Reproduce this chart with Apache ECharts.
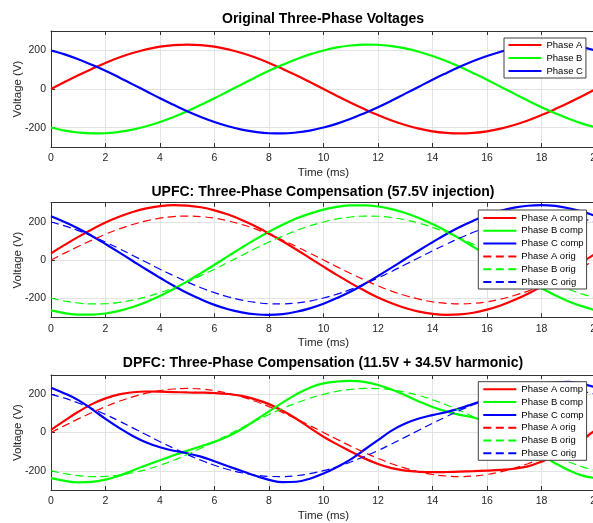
<!DOCTYPE html>
<html>
<head>
<meta charset="utf-8">
<script src="https://cdn.jsdelivr.net/npm/echarts@6/dist/echarts.min.js"></script>
<style>
html,body{margin:0;padding:0;background:#fff;}
#chart{width:593px;height:523px;}
</style>
</head>
<body>
<div id="chart"></div>
<script>
// Time axis (ms)
const time = [0,0.5,1,1.5,2,2.5,3,3.5,4,4.5,5,5.5,6,6.5,7,7.5,8,8.5,9,9.5,10,10.5,11,11.5,12,12.5,13,13.5,14,14.5,15,15.5,16,16.5,17,17.5,18,18.5,19,19.5,20];
const xTicks = [0,2,4,6,8,10,12,14,16,18,20];
const yTicks = [-200,0,200];

const titles = [
  'Original Three-Phase Voltages',
  'UPFC: Three-Phase Compensation (57.5V injection)',
  'DPFC: Three-Phase Compensation (11.5V + 34.5V harmonic)'
];

// Original voltages (V)
const origA = [0,36,71,104,135,163,186,205,219,227,230,227,219,205,186,163,135,104,71,36,0,-36,-71,-104,-135,-163,-186,-205,-219,-227,-230,-227,-219,-205,-186,-163,-135,-104,-71,-36,0];
const origB = [-199,-215,-225,-230,-229,-222,-210,-193,-171,-145,-115,-82,-48,-12,24,60,94,125,154,179,199,215,225,230,229,222,210,193,171,145,115,82,48,12,-24,-60,-94,-125,-154,-179,-199];
const origC = [199,179,154,125,94,60,24,-12,-48,-82,-115,-145,-171,-193,-210,-222,-229,-230,-225,-215,-199,-179,-154,-125,-94,-60,-24,12,48,82,115,145,171,193,210,222,229,230,225,215,199];

// UPFC compensated (V)
const upfcA = [35,79,121,160,196,226,251,270,282,287,285,276,260,238,210,177,139,98,55,10,-35,-79,-121,-160,-196,-226,-251,-270,-282,-287,-285,-276,-260,-238,-210,-177,-139,-98,-55,-10,35];
const upfcB = [-264,-278,-286,-286,-280,-266,-246,-220,-188,-152,-112,-69,-25,20,65,108,148,184,217,243,264,278,286,286,280,266,246,220,188,152,112,69,25,-20,-65,-108,-148,-184,-217,-243,-264];
const upfcC = [229,199,165,126,84,40,-5,-50,-93,-135,-173,-206,-235,-258,-274,-284,-287,-283,-271,-253,-229,-199,-165,-126,-84,-40,5,50,93,135,173,206,235,258,274,284,287,283,271,253,229];

// DPFC compensated (V)
const dpfcA = [14,62,108,148,178,199,210,214,213,211,209,208,206,201,191,173,148,113,72,24,-22,-62,-99,-135,-164,-186,-199,-205,-207,-206,-204,-202,-199,-195,-189,-177,-152,-122,-82,-36,14];
const dpfcB = [-238,-252,-260,-258,-246,-226,-198,-171,-145,-119,-95,-72,-49,-20,18,64,110,156,199,234,256,266,269,264,248,224,194,162,133,110,92,78,55,18,-25,-72,-118,-160,-197,-225,-238];
const dpfcC = [234,204,169,122,71,24,-18,-52,-77,-95,-108,-126,-150,-176,-201,-226,-247,-259,-257,-241,-214,-180,-140,-90,-40,10,47,73,91,106,126,150,172,196,218,238,253,262,264,254,234];

const RED = '#ff0000', GREEN = '#00ff00', BLUE = '#0000ff';
const AXC = '#333333';
const FONT = 'Liberation Sans, Arial, Helvetica, sans-serif';

const grids = [
  {left: 51, top: 31, width: 545, height: 116, outerBoundsMode: 'none', containLabel: false},
  {left: 51, top: 202.7, width: 545, height: 114.6, outerBoundsMode: 'none', containLabel: false},
  {left: 51, top: 375, width: 545, height: 115, outerBoundsMode: 'none', containLabel: false}
];

function pairs(arr){ return time.map((t,i)=>[t, arr[i]]); }

const xAxes = [], yAxes = [];
grids.forEach((g, i) => {
  xAxes.push({
    type: 'value', gridIndex: i, min: 0, max: 20, interval: 2, position: 'bottom',
    name: 'Time (ms)', nameLocation: 'middle', nameGap: 20, nameMoveOverlap: false,
    nameTextStyle: {fontFamily: FONT, fontSize: 11.5, color: '#262626'},
    axisLine: {show: true, onZero: false, lineStyle: {color: AXC, width: 1}},
    axisTick: {show: true, inside: true, length: 4, lineStyle: {color: AXC}},
    axisLabel: {show: true, margin: 6, fontFamily: FONT, fontSize: 10.5, color: '#262626', hideOverlap: false},
    splitLine: {show: true, lineStyle: {color: '#e3e3e3', width: 1}}
  });
});
grids.forEach((g, i) => {
  xAxes.push({
    type: 'value', gridIndex: i, min: 0, max: 20, interval: 2, position: 'top',
    axisLine: {show: true, onZero: false, lineStyle: {color: AXC, width: 1}},
    axisTick: {show: true, inside: true, length: 4, lineStyle: {color: AXC}},
    axisLabel: {show: false},
    splitLine: {show: false}
  });
});
grids.forEach((g, i) => {
  yAxes.push({
    type: 'value', gridIndex: i, min: -300, max: 300, splitNumber: 3,
    name: 'Voltage (V)', nameLocation: 'middle', nameGap: 27, nameMoveOverlap: false,
    nameTextStyle: {fontFamily: FONT, fontSize: 11.5, color: '#262626'},
    axisLine: {show: true, onZero: false, lineStyle: {color: AXC, width: 1}},
    axisTick: {show: true, inside: true, length: 4, lineStyle: {color: AXC}},
    axisLabel: {show: true, margin: 5, fontFamily: FONT, fontSize: 10.5, color: '#262626',
                showMinLabel: false, showMaxLabel: false},
    splitLine: {show: true, lineStyle: {color: '#e3e3e3', width: 1}}
  });
});

const series = [];
function addLine(name, arr, color, gi, dashed){
  series.push({
    name: name, type: 'line', xAxisIndex: gi, yAxisIndex: gi,
    data: pairs(arr), symbol: 'none', showSymbol: false, smooth: 0.4,
    silent: true, animation: false,
    lineStyle: dashed ? {color: color, width: 1.2, type: [8, 4.5]} : {color: color, width: 2.2},
    itemStyle: {color: color}
  });
}
addLine('Phase A', origA, RED, 0, false);
addLine('Phase B', origB, GREEN, 0, false);
addLine('Phase C', origC, BLUE, 0, false);

addLine('Phase A comp', upfcA, RED, 1, false);
addLine('Phase B comp', upfcB, GREEN, 1, false);
addLine('Phase C comp', upfcC, BLUE, 1, false);
addLine('Phase A orig', origA, RED, 1, true);
addLine('Phase B orig', origB, GREEN, 1, true);
addLine('Phase C orig', origC, BLUE, 1, true);

addLine('Phase A comp', dpfcA, RED, 2, false);
addLine('Phase B comp', dpfcB, GREEN, 2, false);
addLine('Phase C comp', dpfcC, BLUE, 2, false);
addLine('Phase A orig', origA, RED, 2, true);
addLine('Phase B orig', origB, GREEN, 2, true);
addLine('Phase C orig', origC, BLUE, 2, true);

const legendBase = {
  orient: 'vertical', itemWidth: 33, itemHeight: 10, selectedMode: false,
  backgroundColor: '#ffffff', borderColor: '#404040', borderWidth: 1, borderRadius: 0,
  itemStyle: {color: 'rgba(0,0,0,0)', borderWidth: 0, opacity: 0},
  textStyle: {fontFamily: FONT, fontSize: 9.5, color: '#000', lineHeight: 10}
};
const legends = [
  Object.assign({}, legendBase, {left: 504, top: 38, itemGap: 3, padding: [2, 3, 2, 3.5],
    data: ['Phase A', 'Phase B', 'Phase C']}),
  Object.assign({}, legendBase, {left: 478.3, top: 210, itemGap: 2.8, padding: [3, 3, 2, 4],
    data: ['Phase A comp', 'Phase B comp', 'Phase C comp', 'Phase A orig', 'Phase B orig', 'Phase C orig']}),
  Object.assign({}, legendBase, {left: 478.3, top: 381.7, itemGap: 2.8, padding: [2.6, 3, 2, 4],
    data: ['Phase A comp', 'Phase B comp', 'Phase C comp', 'Phase A orig', 'Phase B orig', 'Phase C orig']})
];

const titleY = [19, 191.7, 363.3];
const graphics = titles.map((t, i) => ({
  type: 'text', x: 323, y: titleY[i], z: 100,
  style: {text: t, fontFamily: FONT, fontSize: 14, fontWeight: 'bold', fill: '#000',
          textAlign: 'center', textVerticalAlign: 'middle'}
}));

const chart = echarts.init(document.getElementById('chart'), null, {renderer: 'canvas'});
chart.setOption({
  animation: false,
  backgroundColor: '#ffffff',
  grid: grids,
  xAxis: xAxes,
  yAxis: yAxes,
  legend: legends,
  graphic: graphics,
  series: series
});
</script>
</body>
</html>
